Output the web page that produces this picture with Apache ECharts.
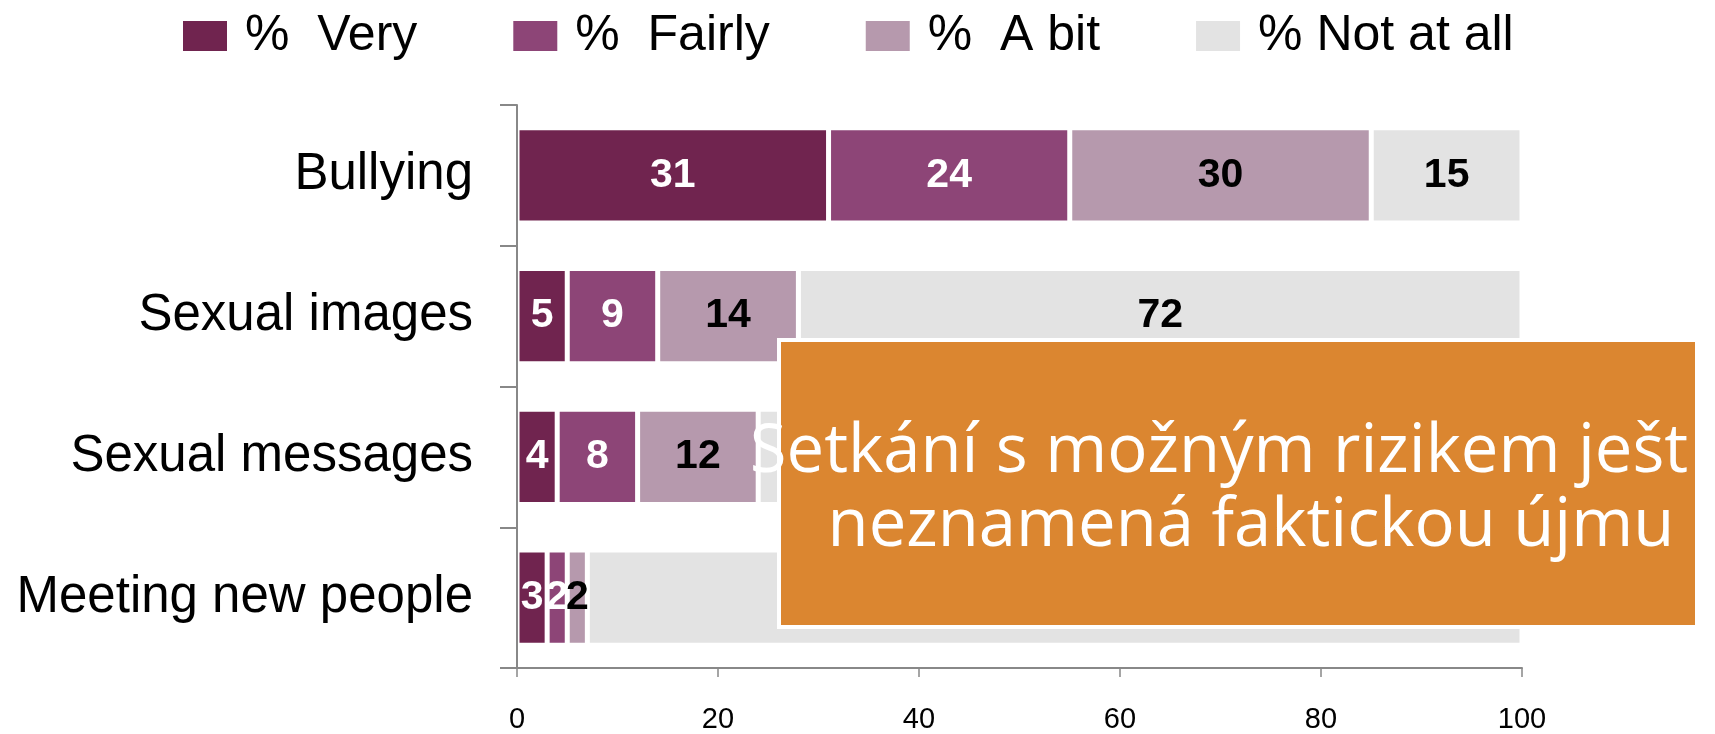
<!DOCTYPE html>
<html lang="en">
<head>
    <meta charset="UTF-8">
    <title>Risk vs harm</title>
    <script src="https://cdn.jsdelivr.net/npm/echarts@6.0.0/dist/echarts.min.js"></script>
    <style>
        html, body { margin: 0; padding: 0; background: #fff; }
        #main { width: 1715px; height: 734px; }
    </style>
</head>
<body>
<div id="main"></div>
<script type="text/javascript">
    // categories top to bottom
    const categories = ['Bullying', 'Sexual images', 'Sexual messages', 'Meeting new people']
    const very = [31, 5, 4, 3]
    const fairly = [24, 9, 8, 2]
    const aBit = [30, 14, 12, 2]
    const notAtAll = [15, 72, 76, 93]
    const seriesNames = ['%  Very', '%  Fairly', '%  A bit', '% Not at all']
    const colors = ['#70244f', '#8d4577', '#b699ad', '#e3e3e3']
    const labelColors = ['#fff', '#fff', '#000', '#000']
    const xTicks = [0, 20, 40, 60, 80, 100]

    const baseFont = 'Liberation Sans, Arial, sans-serif'
    let chart = echarts.init(document.getElementById('main'))

    let series = [very, fairly, aBit, notAtAll].map(function (vals, i) {
        return {
            name: seriesNames[i],
            type: 'bar',
            stack: 'all',
            data: vals,
            barCategoryGap: '32.5%',
            itemStyle: {
                color: colors[i],
                borderColor: '#fff',
                borderWidth: 2.5
            },
            label: {
                show: true,
                position: 'inside',
                color: labelColors[i],
                fontFamily: baseFont,
                fontWeight: 'bold',
                fontSize: 41
            }
        }
    })

    chart.setOption({
        animation: false,
        backgroundColor: '#fff',
        legend: {
            left: 181,
            top: 11,
            padding: 0,
            itemWidth: 46,
            itemHeight: 32,
            itemGap: 94,
            icon: 'rect',
            data: seriesNames,
            textStyle: {
                fontFamily: baseFont,
                fontSize: 50,
                color: '#000',
                padding: [0, 0, 0, 12]
            }
        },
        grid: {
            left: 517,
            right: 193,
            top: 105,
            bottom: 61,
            containLabel: false
        },
        xAxis: {
            type: 'value',
            min: xTicks[0],
            max: xTicks[xTicks.length - 1],
            interval: xTicks[1] - xTicks[0],
            splitLine: { show: false },
            axisLine: { show: true, lineStyle: { color: '#888', width: 2 } },
            axisTick: { show: true, length: 9, lineStyle: { color: '#888', width: 1.5 } },
            axisLabel: {
                margin: 37,
                color: '#000',
                fontFamily: baseFont,
                fontSize: 29
            }
        },
        yAxis: {
            type: 'category',
            inverse: true,
            data: categories,
            z: 10,
            axisLine: { show: true, lineStyle: { color: '#888', width: 2 } },
            axisTick: { show: true, length: 17, lineStyle: { color: '#888', width: 2 } },
            axisLabel: {
                margin: 44,
                color: '#000',
                fontFamily: baseFont,
                fontSize: 51
            }
        },
        series: series,
        graphic: [
            {
                type: 'rect',
                z: 100,
                shape: { x: 779, y: 340, width: 918, height: 287 },
                style: { fill: '#db8630', stroke: '#fff', lineWidth: 4 }
            },
            {
                type: 'text',
                z: 101,
                x: 1219,
                y: 419,
                style: {
                    text: 'Setkání s možným rizikem ješt',
                    fill: '#fff',
                    font: '67px "Open Sans", sans-serif',
                    align: 'center',
                    verticalAlign: 'alphabetic'
                }
            },
            {
                type: 'text',
                z: 101,
                x: 1251,
                y: 493,
                style: {
                    text: 'neznamená faktickou újmu',
                    fill: '#fff',
                    font: '67px "Open Sans", sans-serif',
                    align: 'center',
                    verticalAlign: 'alphabetic'
                }
            }
        ]
    })
</script>
</body>
</html>
